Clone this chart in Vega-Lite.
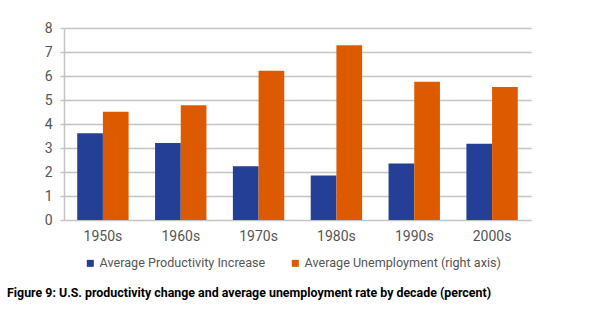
{
  "$schema": "https://vega.github.io/schema/vega-lite/v6.json",
  "autosize": "none",
  "width": 467,
  "height": 192,
  "padding": {"left": 64, "top": 28, "right": 65, "bottom": 104},
  "background": "white",
  "title": {
    "text": "Figure 9: U.S. productivity change and average unemployment rate by decade (percent)",
    "orient": "top",
    "anchor": "start",
    "frame": "group",
    "align": "left",
    "dx": -57,
    "dy": 282,
    "offset": 4,
    "font": "Roboto",
    "fontWeight": "bold",
    "fontSize": 12.4,
    "color": "#000000"
  },
  "data": {
    "values": [
      {"decade": "1950s", "series": "Average Productivity Increase", "value": 3.61},
      {"decade": "1950s", "series": "Average Unemployment (right axis)", "value": 4.51},
      {"decade": "1960s", "series": "Average Productivity Increase", "value": 3.21},
      {"decade": "1960s", "series": "Average Unemployment (right axis)", "value": 4.78},
      {"decade": "1970s", "series": "Average Productivity Increase", "value": 2.24},
      {"decade": "1970s", "series": "Average Unemployment (right axis)", "value": 6.22},
      {"decade": "1980s", "series": "Average Productivity Increase", "value": 1.85},
      {"decade": "1980s", "series": "Average Unemployment (right axis)", "value": 7.28},
      {"decade": "1990s", "series": "Average Productivity Increase", "value": 2.35},
      {"decade": "1990s", "series": "Average Unemployment (right axis)", "value": 5.76},
      {"decade": "2000s", "series": "Average Productivity Increase", "value": 3.18},
      {"decade": "2000s", "series": "Average Unemployment (right axis)", "value": 5.54}
    ]
  },
  "mark": {"type": "bar"},
  "encoding": {
    "x": {
      "field": "decade",
      "type": "nominal",
      "sort": null,
      "scale": {"paddingInner": 0.34, "paddingOuter": 0.17},
      "axis": {
        "title": null,
        "labelAngle": 0,
        "domain": false,
        "ticks": false,
        "labelPadding": 9,
        "labelFont": "Roboto",
        "labelFontSize": 14,
        "labelColor": "#555555"
      }
    },
    "xOffset": {
      "field": "series",
      "type": "nominal",
      "scale": {"paddingInner": 0, "paddingOuter": 0}
    },
    "y": {
      "field": "value",
      "type": "quantitative",
      "scale": {"domain": [0, 8], "nice": false},
      "axis": {
        "title": null,
        "values": [0, 1, 2, 3, 4, 5, 6, 7, 8],
        "grid": true,
        "gridColor": "#c4c4c4",
        "gridWidth": 1.5,
        "domain": true,
        "domainColor": "#c4c4c4",
        "domainWidth": 1.5,
        "ticks": true,
        "tickSize": 4,
        "tickColor": "#c4c4c4",
        "tickWidth": 1.5,
        "labelPadding": 8,
        "labelFont": "Roboto",
        "labelFontSize": 14,
        "labelColor": "#555555"
      }
    },
    "color": {
      "field": "series",
      "type": "nominal",
      "scale": {
        "domain": ["Average Productivity Increase", "Average Unemployment (right axis)"],
        "range": ["#243f96", "#dd5a00"]
      },
      "legend": {
        "title": null,
        "orient": "none",
        "legendX": 20,
        "legendY": 229,
        "direction": "horizontal",
        "symbolType": "square",
        "symbolSize": 49,
        "symbolStrokeWidth": 0,
        "labelOffset": 3,
        "columnPadding": 23,
        "labelLimit": 0,
        "labelFont": "Roboto",
        "labelFontSize": 12.6,
        "labelColor": "#555555"
      }
    }
  },
  "config": {
    "view": {"stroke": null},
    "axis": {"labelFontWeight": "normal"}
  }
}
